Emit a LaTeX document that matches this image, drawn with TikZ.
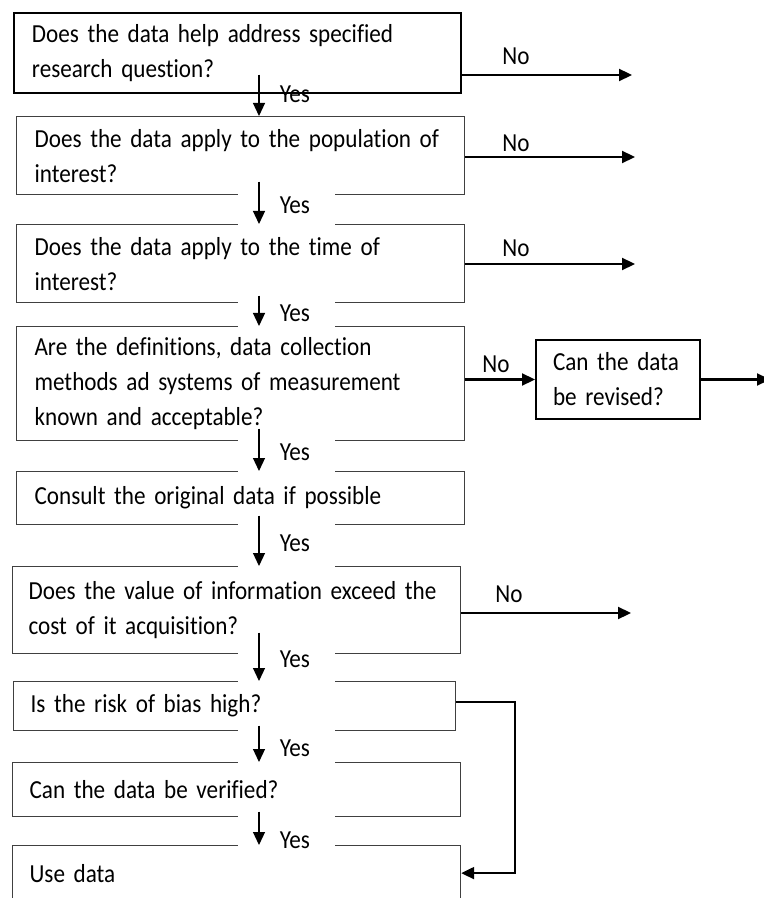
\documentclass[tikz,border=0pt]{standalone}
\usepackage{fontspec}
\setmainfont{Carlito}[FakeStretch=0.89, Ligatures=NoCommon]
\usetikzlibrary{arrows.meta}
\tikzset{
  qbox/.style={draw=black!75, line width=0.6pt, anchor=north west, align=left,
    inner xsep=9pt, inner ysep=0pt, font=\fontsize{13}{17.5}\selectfont},
  qboxbold/.style={qbox, draw=black, line width=1pt},
  yeslabel/.style={fill=white, text width=23.5pt, align=right, inner xsep=12.5pt,
    inner ysep=0pt, font=\fontsize{13}{14}\selectfont},
  nolabel/.style={inner sep=0pt, font=\fontsize{13}{14}\selectfont},
  yesarrow/.style={-{Triangle[length=6.5pt,width=6pt]}, line width=0.6pt},
  noarrow/.style={-{Triangle[length=6.5pt,width=6pt]}, line width=1.1pt}
}
\begin{document}
\begin{tikzpicture}[x=0.5pt,y=-0.5pt]
  \useasboundingbox (0,0) rectangle (764,898);
\clip (0,0) rectangle (764,898);
\node[qboxbold, text width=205.5pt, minimum height=40pt] (q1) at (13,12) {Does the data help address specified\\research question?};
\node[qbox, text width=206pt, minimum height=39pt] (q2) at (16,116) {Does the data apply to the population of\\interest?};
\node[qbox, text width=206pt, minimum height=39pt] (q3) at (16,224) {Does the data apply to the time of\\interest?};
\node[qbox, text width=206pt, minimum height=57pt] (q4) at (16,326) {Are the definitions, data collection\\methods ad systems of measurement\\known and acceptable?};
\node[qboxbold, text width=65pt, inner xsep=8.5pt, minimum height=39.5pt] (q5) at (535,339) {Can the data\\be revised?};
\node[qbox, text width=206pt, minimum height=26.5pt] (q6) at (16,471) {Consult the original data if possible};
\node[qbox, text width=208pt, inner xsep=8pt, minimum height=43.5pt] (q7) at (12,566) {Does the value of information exceed the\\cost of it acquisition?};
\node[qbox, text width=204pt, inner xsep=8.5pt, minimum height=24.5pt] (q8) at (13,681) {Is the risk of bias high?};
\node[qbox, text width=207pt, inner xsep=8.5pt, minimum height=27pt] (q9) at (12,762) {Can the data be verified?};
\node[qbox, text width=207pt, inner xsep=8.5pt, minimum height=27.5pt] (q10) at (12,845) {Use data};
\node[yeslabel, fill=none, minimum height=19pt] (yes1) at (286.5,94) {Yes};
\node[yeslabel, minimum height=23pt] (yes2) at (286.5,205) {Yes};
\node[yeslabel, minimum height=17pt] (yes3) at (286.5,313) {Yes};
\node[yeslabel, minimum height=23pt] (yes4) at (286.5,452) {Yes};
\node[yeslabel, minimum height=27pt] (yes5) at (286.5,543) {Yes};
\node[yeslabel, minimum height=26pt] (yes6) at (286.5,659) {Yes};
\node[yeslabel, minimum height=22pt] (yes7) at (286.5,748) {Yes};
\node[yeslabel, minimum height=28pt] (yes8) at (286.5,840) {Yes};
\coordinate (spine) at (259,0);
\draw[yesarrow] (yes1.north -| spine) -- (q2.north -| spine);
\draw[yesarrow] (yes2.north -| spine) -- (q3.north -| spine);
\draw[yesarrow] (yes3.north -| spine) -- (q4.north -| spine);
\draw[yesarrow] (yes4.north -| spine) -- (q6.north -| spine);
\draw[yesarrow] (yes5.north -| spine) -- (q7.north -| spine);
\draw[yesarrow] (yes6.north -| spine) -- (q8.north -| spine);
\draw[yesarrow] (yes7.north -| spine) -- (q9.north -| spine);
\draw[yesarrow] (yes8.north -| spine) -- (q10.north -| spine);
\node[nolabel] (no1) at (516,56) {No};
\node[nolabel] (no2) at (516,143) {No};
\node[nolabel] (no3) at (516,248) {No};
\node[nolabel] (no4) at (496,364) {No};
\node[nolabel] (no7) at (509,594) {No};
\coordinate (end1) at (632,75);
\coordinate (end2) at (635,157);
\coordinate (end3) at (635,264);
\coordinate (end5) at (770,0);
\coordinate (end7) at (631,613);
\coordinate (bend) at (515,0);
\draw[noarrow] (q1.east |- end1) -- (end1);
\draw[noarrow] (q2.east |- end2) -- (end2);
\draw[noarrow] (q3.east |- end3) -- (end3);
\draw[noarrow] (q4.east |- q5.west) -- (q5.west);
\draw[noarrow] (q5.east) -- (end5 |- q5.east);
\draw[noarrow] (q7.east |- end7) -- (end7);
\draw[noarrow] ([yshift=2pt]q8.east) -- ([yshift=2pt]q8.east -| bend) -- (bend |- q10.east) -- (q10.east);
\end{tikzpicture}
\end{document}
